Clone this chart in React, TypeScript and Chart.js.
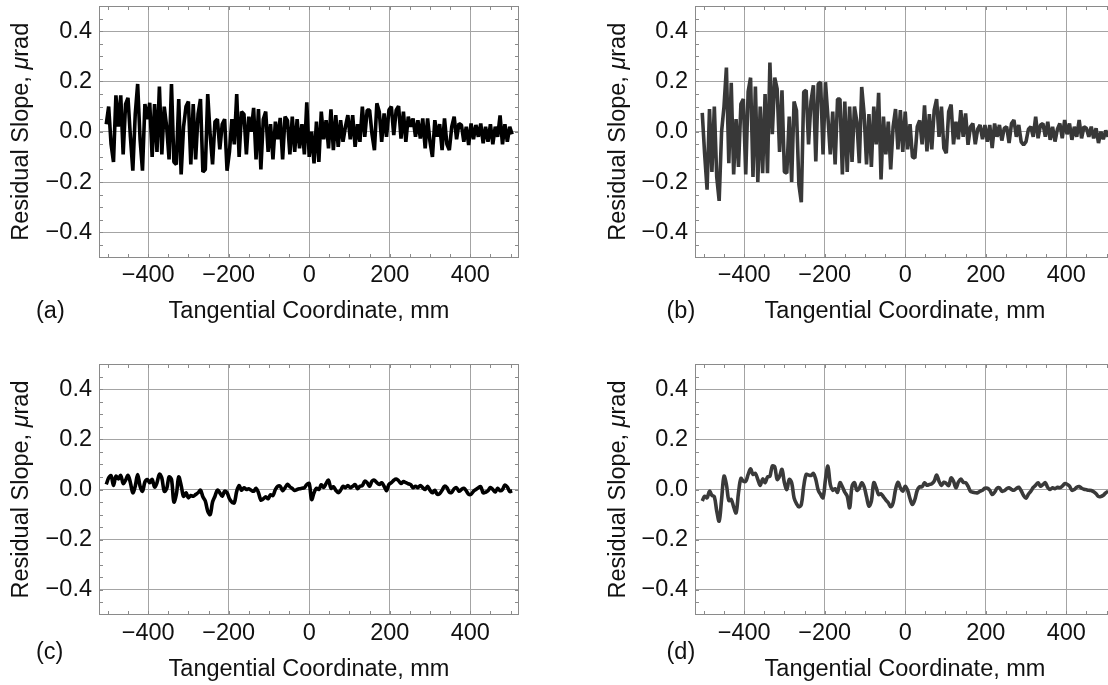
import React, { useEffect, useRef } from "react";
import { Chart, registerables } from "chart.js";

Chart.register(...registerables);

// ---------- data ----------
const X_MM = [
  -504, -498, -492, -486, -480, -474, -468, -462, -456, -450,
  -444, -438, -432, -426, -420, -414, -408, -402, -396, -390,
  -384, -378, -372, -366, -360, -354, -348, -342, -336, -330,
  -324, -318, -312, -306, -300, -294, -288, -282, -276, -270,
  -264, -258, -252, -246, -240, -234, -228, -222, -216, -210,
  -204, -198, -192, -186, -180, -174, -168, -162, -156, -150,
  -144, -138, -132, -126, -120, -114, -108, -102, -96, -90,
  -84, -78, -72, -66, -60, -54, -48, -42, -36, -30,
  -24, -18, -12, -6, 0, 6, 12, 18, 24, 30,
  36, 42, 48, 54, 60, 66, 72, 78, 84, 90,
  96, 102, 108, 114, 120, 126, 132, 138, 144, 150,
  156, 162, 168, 174, 180, 186, 192, 198, 204, 210,
  216, 222, 228, 234, 240, 246, 252, 258, 264, 270,
  276, 282, 288, 294, 300, 306, 312, 318, 324, 330,
  336, 342, 348, 354, 360, 366, 372, 378, 384, 390,
  396, 402, 408, 414, 420, 426, 432, 438, 444, 450,
  456, 462, 468, 474, 480, 486, 492, 498, 504,
];

const SLOPE_A = [
  0.03, 0.10, -0.05, -0.12, 0.145, 0.02, 0.145, -0.09, 0.11, 0.135,
  -0.02, -0.155, 0.07, 0.19, -0.03, -0.155, 0.11, 0.05, 0.115, -0.10,
  0.11, -0.08, 0.18, -0.09, 0.10, 0.02, -0.11, 0.19, -0.12, -0.13,
  0.13, -0.17, 0.02, 0.10, 0.12, -0.13, 0.11, -0.11, 0.07, 0.13,
  -0.16, -0.15, 0.15, -0.01, -0.13, 0.04, 0.05, -0.07, 0.03, 0.05,
  -0.155, -0.08, 0.05, -0.05, 0.15, -0.10, 0.08, 0.07, -0.09, 0.06,
  0.00, 0.095, -0.11, 0.09, -0.15, 0.05, 0.08, -0.08, 0.03, -0.11,
  0.04, -0.03, 0.055, -0.11, 0.06, 0.045, -0.09, 0.06, -0.08, 0.05,
  -0.066, 0.03, -0.09, 0.117, -0.10, 0.00, -0.126, 0.04, -0.12, 0.08,
  -0.03, 0.046, -0.066, 0.089, -0.073, 0.066, -0.06, 0.046, -0.04, 0.02,
  0.066, -0.03, 0.066, -0.06, 0.03, -0.04, 0.10, -0.02, 0.086, 0.086,
  -0.01, -0.073, 0.113, 0.08, -0.04, 0.073, -0.02, 0.086, 0.10, -0.013,
  0.086, 0.102, -0.027, 0.08, -0.04, 0.06, 0.02, 0.053, -0.02, 0.046,
  -0.027, 0.053, -0.066, 0.053, -0.04, -0.10, 0.046, -0.02, 0.03, -0.073,
  0.053, -0.05, -0.073, 0.02, 0.06, -0.03, 0.033, 0.027, -0.04, 0.02,
  -0.053, 0.033, -0.03, 0.027, -0.02, 0.033, -0.046, 0.02, -0.04, 0.03,
  -0.05, 0.02, -0.02, 0.065, -0.05, 0.03, -0.04, 0.02, -0.01,
];

const SLOPE_B = [
  0.075, -0.09, -0.23, 0.09, -0.16, 0.10, -0.18, -0.275, 0.00, 0.10,
  0.255, -0.125, 0.195, -0.17, 0.05, -0.14, 0.11, 0.13, -0.17, 0.16,
  0.215, -0.18, 0.18, -0.20, 0.10, -0.165, 0.15, -0.165, 0.275, -0.01,
  0.215, 0.17, -0.08, 0.165, -0.16, -0.165, 0.06, -0.20, 0.12, 0.085,
  -0.21, -0.28, 0.158, 0.165, -0.05, 0.12, 0.185, -0.118, 0.19, 0.197,
  -0.09, 0.197, 0.06, -0.09, 0.08, -0.13, 0.13, 0.13, -0.17, 0.12,
  -0.16, 0.10, -0.12, 0.10, 0.04, -0.125, 0.178, 0.07, -0.13, 0.07,
  -0.14, 0.10, -0.05, 0.155, -0.19, 0.06, -0.09, 0.04, -0.15, 0.02,
  0.09, -0.07, 0.086, -0.08, 0.08, -0.07, 0.03, -0.10, -0.105, 0.02,
  0.045, -0.05, 0.105, -0.078, 0.07, -0.07, 0.086, 0.13, -0.02, 0.10,
  -0.065, -0.085, 0.08, 0.108, -0.05, 0.04, -0.03, 0.086, -0.02, 0.073,
  -0.052, 0.02, 0.033, -0.05, 0.01, 0.027, -0.03, 0.027, -0.04, 0.027,
  -0.065, 0.033, -0.02, 0.027, -0.035, 0.014, 0.02, -0.045, 0.033, 0.047,
  -0.02, 0.027, -0.04, -0.052, -0.039, 0.01, 0.02, -0.02, 0.06, -0.026,
  0.027, 0.033, -0.02, 0.04, -0.032, 0.02, -0.039, 0.01, 0.033, -0.026,
  0.047, -0.01, 0.033, -0.032, 0.02, -0.02, 0.047, -0.026, 0.02, 0.014,
  -0.02, 0.02, -0.026, 0.014, -0.045, 0.00, -0.03, 0.005, -0.02,
];

const SLOPE_C = [
  0.02, 0.046, 0.055, 0.016, 0.053, 0.042, 0.056, 0.024, 0.037, 0.056,
  0.027, -0.013, 0.013, 0.06, 0.013, -0.007, 0.03, 0.04, 0.027, 0.04,
  0.01, 0.027, 0.061, 0.046, -0.007, 0.003, 0.05, 0.04, -0.05, -0.02,
  0.05, 0.016, -0.027, -0.013, -0.033, -0.024, -0.027, -0.02, -0.013, -0.003,
  -0.029, -0.046, -0.086, -0.10, -0.05, -0.027, -0.003, -0.013, -0.027, -0.007,
  -0.013, -0.037, -0.05, -0.053, -0.007, 0.016, -0.003, 0.007, 0.0, 0.003,
  -0.003, -0.007, 0.005, -0.013, -0.042, -0.037, -0.029, -0.037, -0.021, -0.024,
  0.0, 0.013, 0.013, -0.005, 0.007, 0.021, 0.011, 0.004, -0.004, 0.0,
  0.003, 0.005, 0.007, 0.02, 0.024, -0.04, -0.013, 0.005, 0.0, 0.019,
  0.008, 0.024, 0.037, 0.005, 0.011, -0.003, -0.013, -0.003, 0.013, 0.007,
  0.016, 0.007, 0.013, 0.02, 0.003, 0.013, 0.016, 0.033, 0.027, 0.013,
  0.033, 0.037, 0.027, 0.02, 0.027, 0.013, -0.005, 0.02, 0.027, 0.037,
  0.042, 0.035, 0.024, 0.032, 0.027, 0.023, 0.019, 0.007, 0.013, 0.007,
  0.016, 0.007, 0.0, 0.013, -0.003, -0.013, -0.003, -0.019, -0.016, -0.003,
  0.013, 0.007, -0.011, -0.011, 0.003, 0.007, -0.007, 0.0, 0.005, -0.005,
  -0.019, -0.019, -0.007, 0.0, 0.007, 0.011, -0.013, -0.011, -0.005, 0.008,
  0.0, -0.01, 0.005, -0.005, 0.0, 0.018, 0.01, -0.008, -0.005,
];

const SLOPE_D = [
  -0.046, -0.027, -0.033, -0.007, -0.023, -0.029, -0.086, -0.126, -0.04, 0.053,
  0.02, -0.044, -0.04, -0.069, -0.093, -0.013, 0.044, 0.033, 0.033, 0.06,
  0.082, 0.06, 0.064, 0.04, 0.016, 0.042, 0.027, 0.05, 0.053, 0.093,
  0.09, 0.04, 0.053, 0.08, 0.027, 0.0, 0.04, 0.027, -0.033, -0.056,
  -0.069, -0.06, 0.013, 0.06, 0.058, 0.056, 0.064, 0.04, -0.003, -0.02,
  -0.033, 0.04, 0.093, 0.02, -0.003, 0.003, -0.011, 0.027, 0.011, -0.011,
  -0.027, -0.073, 0.013, 0.027, -0.003, 0.005, 0.027, 0.011, -0.029, -0.066,
  -0.046, 0.027, 0.007, -0.02, -0.017, -0.029, -0.042, -0.053, -0.069, -0.053,
  0.0, 0.029, 0.007, -0.007, 0.013, -0.003, -0.037, -0.06, -0.04, -0.003,
  0.011, 0.011, 0.027, 0.017, 0.02, 0.023, 0.033, 0.058, 0.033, 0.016,
  0.029, 0.024, 0.016, 0.046, 0.033, 0.007, 0.029, 0.042, 0.029, 0.027,
  0.013, -0.007, -0.011, -0.013, -0.013, -0.007, -0.003, 0.005, 0.005, -0.003,
  -0.02, -0.011, 0.005, 0.007, -0.007, -0.005, 0.003, 0.007, 0.0, -0.003,
  0.004, 0.009, -0.005, -0.024, -0.035, -0.019, -0.007, 0.008, 0.017, 0.027,
  0.013, 0.02, 0.027, 0.008, 0.0, 0.007, 0.003, 0.009, 0.007, 0.013,
  0.023, 0.021, 0.013, -0.003, 0.0, 0.009, 0.012, 0.005, 0.001, -0.001,
  -0.003, -0.004, -0.009, -0.017, -0.028, -0.028, -0.023, -0.013, -0.007,
];

const X_TICKS = [-400, -200, 0, 200, 400];
const Y_TICKS = [-0.4, -0.2, 0, 0.2, 0.4];
const X_MINOR = [
  -500, -450, -400, -350, -300, -250, -200, -150, -100, -50, 0,
  50, 100, 150, 200, 250, 300, 350, 400, 450, 500,
];
const Y_MINOR = [
  -0.45, -0.4, -0.35, -0.3, -0.25, -0.2, -0.15, -0.1, -0.05, 0,
  0.05, 0.1, 0.15, 0.2, 0.25, 0.3, 0.35, 0.4, 0.45,
];
const X_RANGE = [-522, 521];
const Y_RANGE = [-0.5, 0.5];
const X_TITLE = "Tangential Coordinate, mm";
const Y_TITLE_PARTS = [
  { text: "Residual Slope, ", italic: false },
  { text: "\u03bc", italic: true },
  { text: "rad", italic: false },
];
const PANEL_LABELS = ["(a)", "(b)", "(c)", "(d)"];

// ---------- styling ----------
const FONT = "'Liberation Sans', Arial, Helvetica, sans-serif";
const FONT_SIZE = 23.5;
const GRID = "#a4a4a4";
const FRAME = "#8a8a8a";
const TEXT = "#111111";
const XAXIS_H = 30;
const MINOR_LEN = 3.5;

type Area = { left: number; top: number; right: number; bottom: number };
type PanelSpec = {
  label: string;
  values: number[];
  color: string;
  lineWidth: number;
  smooth: boolean;
  left: number;
  top: number;
  width: number;
  height: number;
  area: Area;
  labelX: number;
  labelDY: number;
  titleDY: number;
  yTitleX: number;
};

const PANELS: PanelSpec[] = [
  {
    label: PANEL_LABELS[0], values: SLOPE_A, color: "#000000", lineWidth: 3.6, smooth: false,
    left: 0, top: 0, width: 554, height: 340,
    area: { left: 99, top: 6, right: 519, bottom: 257.5 },
    labelX: 36, labelDY: 54, titleDY: 54.5, yTitleX: 21.5,
  },
  {
    label: PANEL_LABELS[1], values: SLOPE_B, color: "#383838", lineWidth: 3.6, smooth: false,
    left: 554, top: 0, width: 600, height: 340,
    area: { left: 141, top: 6, right: 561, bottom: 257.5 },
    labelX: 112.5, labelDY: 54, titleDY: 54.5, yTitleX: 64.5,
  },
  {
    label: PANEL_LABELS[2], values: SLOPE_C, color: "#000000", lineWidth: 3.6, smooth: true,
    left: 0, top: 340, width: 554, height: 345,
    area: { left: 99, top: 24, right: 519, bottom: 275 },
    labelX: 36, labelDY: 38, titleDY: 55, yTitleX: 21.5,
  },
  {
    label: PANEL_LABELS[3], values: SLOPE_D, color: "#3a3a3a", lineWidth: 3.6, smooth: true,
    left: 554, top: 340, width: 600, height: 345,
    area: { left: 141, top: 24, right: 561, bottom: 275 },
    labelX: 112.5, labelDY: 38, titleDY: 55, yTitleX: 64.5,
  },
];

const minus = (s: string) => s.replace("-", "\u2212");
const fmtX = (v: number) => minus(String(Math.round(v)));
const fmtY = (v: number) => minus((Math.abs(v) < 1e-9 ? 0 : v).toFixed(1));

function makeDecor(spec: PanelSpec) {
  return {
    id: "decor",
    beforeDatasetsDraw(chart: any) {
      const { ctx, chartArea: ca, scales } = chart;
      ctx.save();
      ctx.strokeStyle = FRAME;
      ctx.lineWidth = 1;
      const L = Math.round(ca.left) + 0.5;
      const R = Math.round(ca.right) - 0.5;
      const T = Math.round(ca.top) + 0.5;
      const B = Math.round(ca.bottom) - 0.5;
      ctx.strokeRect(L, T, R - L, B - T);
      ctx.beginPath();
      for (const v of X_MINOR) {
        const px = Math.round(scales.x.getPixelForValue(v)) + 0.5;
        if (px < L || px > R) continue;
        ctx.moveTo(px, T);
        ctx.lineTo(px, T + MINOR_LEN);
        ctx.moveTo(px, B);
        ctx.lineTo(px, B - MINOR_LEN);
      }
      for (const v of Y_MINOR) {
        const py = Math.round(scales.y.getPixelForValue(v)) + 0.5;
        if (py < T || py > B) continue;
        ctx.moveTo(L, py);
        ctx.lineTo(L + MINOR_LEN, py);
        ctx.moveTo(R, py);
        ctx.lineTo(R - MINOR_LEN, py);
      }
      ctx.stroke();
      ctx.restore();
    },
    afterDraw(chart: any) {
      const { ctx, chartArea: ca } = chart;
      ctx.save();
      ctx.fillStyle = TEXT;
      ctx.textBaseline = "middle";
      const normal = `${FONT_SIZE}px ${FONT}`;
      const italic = `italic ${FONT_SIZE}px ${FONT}`;
      ctx.font = normal;
      ctx.textAlign = "center";
      ctx.fillText(X_TITLE, (ca.left + ca.right) / 2, ca.bottom + spec.titleDY);
      ctx.textAlign = "left";
      ctx.fillText(spec.label, spec.labelX, ca.bottom + spec.labelDY);
      ctx.translate(spec.yTitleX, (ca.top + ca.bottom) / 2);
      ctx.rotate(-Math.PI / 2);
      let total = 0;
      const widths = Y_TITLE_PARTS.map((p) => {
        ctx.font = p.italic ? italic : normal;
        const w = ctx.measureText(p.text).width;
        total += w;
        return w;
      });
      let x = -total / 2;
      Y_TITLE_PARTS.forEach((p, i) => {
        ctx.font = p.italic ? italic : normal;
        ctx.fillText(p.text, x, 0);
        x += widths[i];
      });
      ctx.restore();
    },
  };
}

function PanelChart({ spec }: { spec: PanelSpec }) {
  const ref = useRef<HTMLCanvasElement | null>(null);
  useEffect(() => {
    const canvas = ref.current;
    if (!canvas) return;
    const a = spec.area;
    const chart = new Chart(canvas, {
      type: "line",
      data: {
        datasets: [
          {
            data: X_MM.map((x, i) => ({ x, y: spec.values[i] })),
            borderColor: spec.color,
            backgroundColor: spec.color,
            borderWidth: spec.lineWidth,
            pointRadius: 0,
            fill: false,
            tension: spec.smooth ? 0.35 : 0,
            borderJoinStyle: spec.smooth ? "round" : "bevel",
            borderCapStyle: "butt",
          } as any,
        ],
      },
      options: {
        responsive: false,
        maintainAspectRatio: false,
        animation: false,
        devicePixelRatio: 1,
        events: [],
        layout: {
          padding: {
            left: 0,
            top: a.top,
            right: spec.width - a.right,
            bottom: spec.height - a.bottom - XAXIS_H,
          },
        },
        plugins: {
          legend: { display: false },
          tooltip: { enabled: false },
          title: { display: false },
        },
        scales: {
          x: {
            type: "linear",
            min: X_RANGE[0],
            max: X_RANGE[1],
            afterBuildTicks: (s: any) => {
              s.ticks = X_TICKS.map((value) => ({ value }));
            },
            afterFit: (s: any) => {
              s.height = XAXIS_H;
              s.paddingLeft = 0;
              s.paddingRight = 0;
            },
            grid: { color: GRID, lineWidth: 1, drawTicks: false },
            border: { display: false },
            ticks: {
              color: TEXT,
              font: { family: FONT, size: FONT_SIZE },
              padding: 4,
              autoSkip: false,
              maxRotation: 0,
              minRotation: 0,
              callback: (v: any) => fmtX(Number(v)),
            },
          },
          y: {
            type: "linear",
            min: Y_RANGE[0],
            max: Y_RANGE[1],
            afterBuildTicks: (s: any) => {
              s.ticks = Y_TICKS.map((value) => ({ value }));
            },
            afterFit: (s: any) => {
              s.width = a.left;
              s.paddingTop = 0;
              s.paddingBottom = 0;
            },
            grid: { color: GRID, lineWidth: 1, drawTicks: false },
            border: { display: false },
            ticks: {
              color: TEXT,
              font: { family: FONT, size: FONT_SIZE },
              padding: 7,
              autoSkip: false,
              callback: (v: any) => fmtY(Number(v)),
            },
          },
        },
      } as any,
      plugins: [makeDecor(spec)],
    });
    return () => chart.destroy();
  }, [spec]);
  return (
    <canvas
      ref={ref}
      width={spec.width}
      height={spec.height}
      style={{
        position: "absolute",
        left: spec.left,
        top: spec.top,
        width: spec.width,
        height: spec.height,
        display: "block",
      }}
    />
  );
}

export default function App() {
  return (
    <div
      style={{
        position: "absolute",
        left: 0,
        top: 0,
        width: 1108,
        height: 685,
        overflow: "hidden",
        background: "#ffffff",
      }}
    >
      {PANELS.map((p) => (
        <PanelChart key={p.label} spec={p} />
      ))}
    </div>
  );
}
